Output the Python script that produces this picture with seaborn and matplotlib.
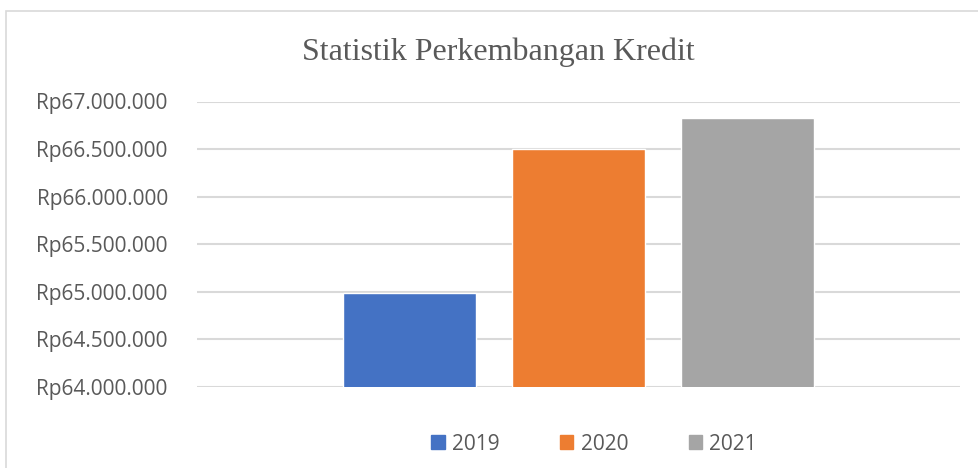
import numpy as np
import pandas as pd
import seaborn as sns
import matplotlib.pyplot as plt
from matplotlib.ticker import FuncFormatter
from matplotlib.patches import Rectangle

# data
years = ['2019', '2020', '2021']
kredit = [64990000, 66500000, 66830000]
colors = ['#4472C4', '#ED7D31', '#A5A5A5']

df = pd.DataFrame({'tahun': years, 'kredit': kredit})

sns.set_style('white')
plt.rcParams['font.family'] = ['Open Sans', 'DejaVu Sans']

fig = plt.figure(figsize=(9.79, 4.68), dpi=100)
ax = fig.add_axes([197 / 979, 1 - 387 / 468, (960 - 197) / 979, (387 - 101.5) / 468])

# chart frame
fig.patches.append(Rectangle((6 / 979, -0.05), 1.1, 1 - 11 / 468 + 0.05, transform=fig.transFigure,
                             fill=False, edgecolor='#d9d9d9', linewidth=1.2))

sns.barplot(data=df, x='tahun', y='kredit', hue='tahun', palette=colors,
            width=0.79, dodge=False, legend=False, ax=ax, zorder=3, saturation=1)

ax.set_ylim(64000000, 67000000)
ax.set_xlim(-1.258, 3.258)
ax.set_yticks(np.arange(64000000, 67000001, 500000))
ax.yaxis.set_major_formatter(FuncFormatter(lambda v, p: 'Rp' + f'{int(v):,}'.replace(',', '.')))
ax.grid(axis='y', color='#d9d9d9', linewidth=1.5, zorder=0)
ax.set_xticks([])
ax.set_xlabel('')
ax.set_ylabel('')
for s in ax.spines.values():
    s.set_visible(False)
ax.tick_params(axis='y', labelsize=15, colors='#595959', length=0, pad=21)

fig.text(498 / 979, 1 - 52 / 468, 'Statistik Perkembangan Kredit', ha='center', va='center',
         family='Liberation Serif', fontsize=23, color='#595959')

handles = [Rectangle((0, 0), 1, 1, color=c) for c in colors]
fig.legend(handles, years, loc='center', bbox_to_anchor=(594 / 979, 1 - 444 / 468), ncol=3,
           frameon=False, fontsize=15, labelcolor='#595959', handlelength=0.65, handleheight=0.65,
           handletextpad=0.35, columnspacing=2.9)

fig.savefig('out.png', dpi=100, facecolor='white')
